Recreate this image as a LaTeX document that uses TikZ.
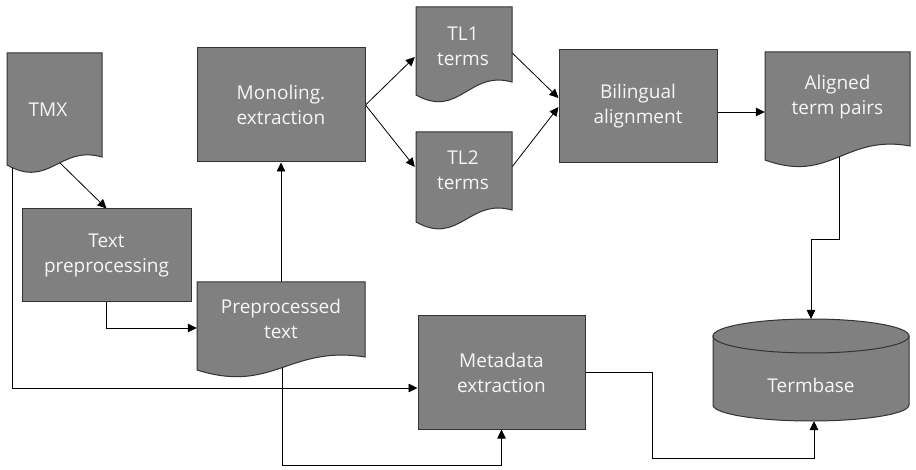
\documentclass[tikz,border=0pt]{standalone}
\usepackage{fontspec}
\setmainfont{Open Sans}
\usetikzlibrary{arrows.meta,calc,backgrounds}
\definecolor{boxfill}{HTML}{808080}
\definecolor{boxline}{HTML}{333333}
\definecolor{txt}{HTML}{F6F6F6}
\newcommand\docpath[5]{%
  \path[box] (#1,#2) -- (#3,#2) -- (#3,#5)
    .. controls ({#1+0.55*(#3-#1)},{#5-12}) and ({#1+0.45*(#3-#1)},{#4+24}) .. (#1,#4) -- cycle;}
\begin{document}
\begin{tikzpicture}[x=1pt,y=-1pt,
  box/.style={draw=boxline,fill=boxfill,line width=1pt},
  lbl/.style={text=txt,font=\fontsize{19}{25}\selectfont,align=center,inner sep=0pt},
  rectbox/.style={box,lbl},
  conn/.style={draw=black,line width=0.8pt,-{Triangle[length=9pt,width=8.5pt]}}]
\useasboundingbox (0,0) rectangle (916,470);

% document shapes
\docpath{7}{53}{102}{165}{157}
\docpath{197}{282}{365}{370}{357}
\docpath{416}{7}{512}{95}{82}
\docpath{416}{132}{512}{222}{210}
\docpath{765}{52}{910}{160}{146}

% cylinder
\path[box] (713,336) -- (713,405) arc[start angle=180,end angle=0,x radius=98,y radius=16] -- (909,336) -- cycle;
\path[box] (811,336) ellipse[x radius=98,y radius=17];

% labels of documents
\node[lbl] (tmx) at (48,110) {TMX};
\node[lbl,minimum width=168,minimum height=74] (ppt) at (281,319) {Preprocessed\\text};
\node[lbl,minimum width=96,minimum height=78] (tl1) at (463,46) {TL1\\terms};
\node[lbl,minimum width=96,minimum height=76] (tl2) at (463,170) {TL2\\terms};
\node[lbl,minimum width=145,minimum height=90] (al) at (837.5,97) {Aligned\\term pairs};
\node[lbl] (tb) at (811,385) {Termbase};

% process boxes
\node[rectbox,minimum width=169,minimum height=93] (pre) at (106.5,255.5) {Text\\preprocessing};
\node[rectbox,minimum width=168,minimum height=114] (mono) at (281,105) {Monoling.\\extraction};
\node[rectbox,minimum width=158,minimum height=113] (bil) at (638,106.5) {Bilingual\\alignment};
\node[rectbox,minimum width=167,minimum height=113] (meta) at (501.5,372.5) {Metadata\\extraction};

% free connector ends
\coordinate (tmxout) at (57,160);
\coordinate (tmxleft) at (12,160);
\coordinate (pptbot) at (282,365);
\coordinate (albot) at (839,155);
\coordinate (tbtop) at (811,319);
\coordinate (tbbot) at (814,421);

\begin{scope}[on background layer]
\draw[conn] (tmxout) -- (pre.north);
\draw[conn] (tmxleft) |- ($(meta.west)+(0,15.5)$);
\draw[conn] (pre.south) |- ($(ppt.west)+(0,9)$);
\draw[conn] (ppt.north) -- (mono.south);
\draw[conn] (pptbot) -- ++(0,100) -| (meta.south);
\draw[conn] (mono.east) -- ($(tl1.west)+(0,11)$);
\draw[conn] (mono.east) -- ($(tl2.west)+(0,-3)$);
\draw[conn] ($(tl1.east)+(0,6)$) -- ($(bil.west)+(0,-8.5)$);
\draw[conn] ($(tl2.east)+(0,-2)$) -- ($(bil.west)+(0,0.5)$);
\draw[conn] ($(bil.east)+(0,5.5)$) -- ($(al.west)+(0,15)$);
\draw[conn] (albot) -- ++(0,84) -| (tbtop);
\draw[conn] (meta.east) -- ++(67,0) -- ++(0,86) -| (tbbot);
\end{scope}
\end{tikzpicture}
\end{document}
